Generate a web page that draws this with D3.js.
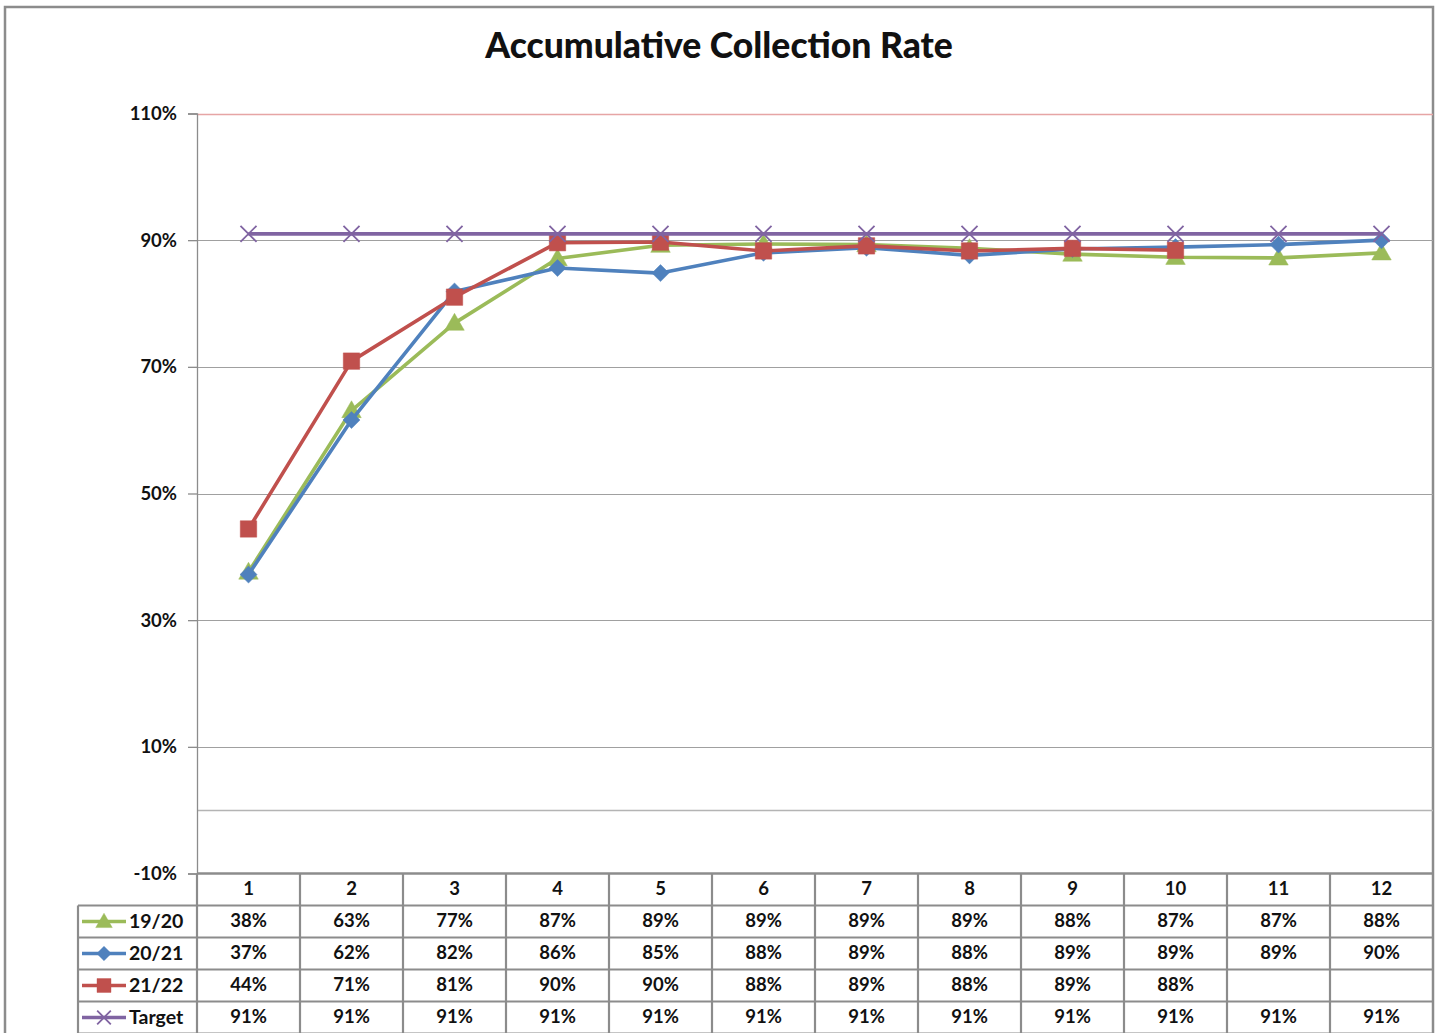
<!DOCTYPE html>
<html>
<head>
<meta charset="utf-8">
<title>Accumulative Collection Rate</title>
<script src="https://cdn.jsdelivr.net/npm/d3@7"></script>
<style>
  html, body { margin: 0; padding: 0; background: #fff; }
  svg { display: block; }
  text { font-family: Lato, "Open Sans", sans-serif; fill: #111; }
</style>
</head>
<body>
<svg id="chart" width="1441" height="1033"></svg>
<script>
// Periods (months) along the category axis
const periods = [1, 2, 3, 4, 5, 6, 7, 8, 9, 10, 11, 12];

// Accumulative collection rate per season
const s1920 = [0.376, 0.631, 0.769, 0.871, 0.892, 0.894, 0.893, 0.887, 0.878, 0.873, 0.872, 0.880];
const s2021 = [0.372, 0.616, 0.819, 0.856, 0.848, 0.880, 0.888, 0.876, 0.886, 0.889, 0.893, 0.900];
const s2122 = [0.444, 0.709, 0.810, 0.896, 0.897, 0.883, 0.891, 0.883, 0.887, 0.884, null, null];
const target = [0.91, 0.91, 0.91, 0.91, 0.91, 0.91, 0.91, 0.91, 0.91, 0.91, 0.91, 0.91];

const seriesNames = ["19/20", "20/21", "21/22", "Target"];
const seriesValues = [s1920, s2021, s2122, target];
const seriesColors = ["#9BBB59", "#4F81BD", "#C0504D", "#8064A2"];
const seriesMarkers = ["triangle", "diamond", "square", "cross"];

// Y axis tick values
const yTicks = [-0.1, 0.1, 0.3, 0.5, 0.7, 0.9, 1.1];

const svg = d3.select("#chart");
const W = 1441, H = 1033;

const plot = { left: 197, right: 1433, top: 113.5, bottom: 873.5 };
const rowH = 32;
const headerTop = plot.bottom, headerBottom = plot.bottom + 32;
const tableLeft = 78;

const x = d3.scaleBand().domain(periods).range([plot.left, plot.right]);
const y = d3.scaleLinear().domain([-0.1, 1.1]).range([plot.bottom, plot.top]);
const pct = d3.formatLocale({ decimal: ".", thousands: ",", grouping: [3], currency: ["", ""], minus: "-" }).format(".0%");

// Chart frame
svg.append("rect")
  .attr("x", 5).attr("y", 7).attr("width", 1428).attr("height", H + 20)
  .attr("fill", "#fff").attr("stroke", "#8c8c8c").attr("stroke-width", 2.5);

// Title
svg.append("text")
  .attr("x", 719).attr("y", 58)
  .attr("text-anchor", "middle")
  .style("font-size", "35.5px").style("font-weight", 900)
  .text("Accumulative Collection Rate");

// Horizontal gridlines
svg.append("g").selectAll("line")
  .data(yTicks.filter(d => d > -0.1))
  .join("line")
  .attr("x1", plot.left).attr("x2", plot.right)
  .attr("y1", d => Math.round(y(d)) + 0.5).attr("y2", d => Math.round(y(d)) + 0.5)
  .attr("stroke", d => d > 1.05 ? "#E6A5A5" : "#a0a0a0")
  .attr("stroke-width", d => d > 1.05 ? 1.6 : 1.2);

// Zero line (category axis crossing)
svg.append("line")
  .attr("x1", plot.left).attr("x2", plot.right)
  .attr("y1", Math.round(y(0)) + 0.5).attr("y2", Math.round(y(0)) + 0.5)
  .attr("stroke", "#b4b4b4").attr("stroke-width", 1.3);

// Value axis
const yAxis = d3.axisLeft(y).tickValues(yTicks).tickFormat(pct).tickSize(9).tickPadding(11);
const yg = svg.append("g").attr("transform", `translate(${plot.left},0)`).call(yAxis);
yg.select(".domain").attr("stroke", "#8c8c8c").attr("stroke-width", 1.3);
yg.selectAll(".tick line").attr("stroke", "#8c8c8c").attr("stroke-width", 1.3);
yg.selectAll(".tick text")
  .style("font-size", "18.5px").style("font-family", "Lato, sans-serif")
  .style("font-weight", 700).attr("fill", "#111");

// Marker shapes
const symbolFor = {
  triangle: d3.symbol().type(d3.symbolTriangle).size(165),
  diamond: d3.symbol().type(d3.symbolDiamond2).size(185),
  square: d3.symbol().type(d3.symbolSquare).size(270),
  cross: d3.symbol().type(d3.symbolTimes).size(170)
};

function drawMarker(g, kind, color, cx, cy, scale) {
  const k = scale || 1;
  const p = g.append("path")
    .attr("d", symbolFor[kind]())
    .attr("transform", `translate(${cx},${cy + (kind === "triangle" ? 1.5 * k : 0)}) scale(${k})`);
  if (kind === "cross") {
    p.attr("fill", "none").attr("stroke", color).attr("stroke-width", 1.8 / k);
  } else {
    p.attr("fill", color).attr("stroke", color).attr("stroke-width", 0.5);
  }
}

// Series lines and markers
const line = d3.line()
  .defined(d => d != null)
  .x((d, i) => x(periods[i]) + x.bandwidth() / 2)
  .y(d => y(d));

seriesValues.forEach((vals, si) => {
  const g = svg.append("g");
  g.append("path")
    .attr("d", line(vals))
    .attr("fill", "none")
    .attr("stroke", seriesColors[si])
    .attr("stroke-width", 3.6)
    .attr("stroke-linejoin", "round");
  vals.forEach((v, i) => {
    if (v == null) return;
    drawMarker(g, seriesMarkers[si], seriesColors[si], x(periods[i]) + x.bandwidth() / 2, y(v));
  });
});

// Data table
const tg = svg.append("g");
const gridStroke = "#8c8c8c";
const tableBottom = headerBottom + rowH * seriesNames.length;

// Header row top border and row separators
tg.append("line")
  .attr("x1", plot.left).attr("x2", plot.right)
  .attr("y1", headerTop).attr("y2", headerTop)
  .attr("stroke", gridStroke).attr("stroke-width", 2.5);
d3.range(seriesNames.length + 1).forEach(r => {
  const yy = headerBottom + r * rowH;
  tg.append("line")
    .attr("x1", tableLeft).attr("x2", plot.right)
    .attr("y1", yy).attr("y2", yy)
    .attr("stroke", gridStroke).attr("stroke-width", 2.2);
});
// Column separators
periods.forEach(p => {
  tg.append("line")
    .attr("x1", x(p)).attr("x2", x(p))
    .attr("y1", headerTop).attr("y2", tableBottom)
    .attr("stroke", gridStroke).attr("stroke-width", 2.2);
});
tg.append("line")
  .attr("x1", tableLeft).attr("x2", tableLeft)
  .attr("y1", headerBottom).attr("y2", tableBottom)
  .attr("stroke", gridStroke).attr("stroke-width", 2.2);

// Header labels
periods.forEach(p => {
  tg.append("text")
    .attr("x", x(p) + x.bandwidth() / 2)
    .attr("y", (headerTop + headerBottom) / 2 + 1)
    .attr("text-anchor", "middle").attr("dominant-baseline", "middle")
    .style("font-size", "18.5px").style("font-weight", 700)
    .text(p);
});

// Row legend keys and values
seriesNames.forEach((name, si) => {
  const cy = headerBottom + si * rowH + rowH / 2;
  tg.append("line")
    .attr("x1", 82).attr("x2", 126).attr("y1", cy).attr("y2", cy)
    .attr("stroke", seriesColors[si]).attr("stroke-width", 3.6);
  drawMarker(tg, seriesMarkers[si], seriesColors[si], 104, cy, 0.85);
  tg.append("text")
    .attr("x", 129).attr("y", cy + 1)
    .attr("dominant-baseline", "middle")
    .style("font-size", "19.5px").style("font-weight", 700)
    .text(name);
  seriesValues[si].forEach((v, i) => {
    if (v == null) return;
    tg.append("text")
      .attr("x", x(periods[i]) + x.bandwidth() / 2)
      .attr("y", cy + 1)
      .attr("text-anchor", "middle").attr("dominant-baseline", "middle")
      .style("font-size", "18.5px").style("font-weight", 700)
      .text(pct(v));
  });
});
</script>
</body>
</html>
